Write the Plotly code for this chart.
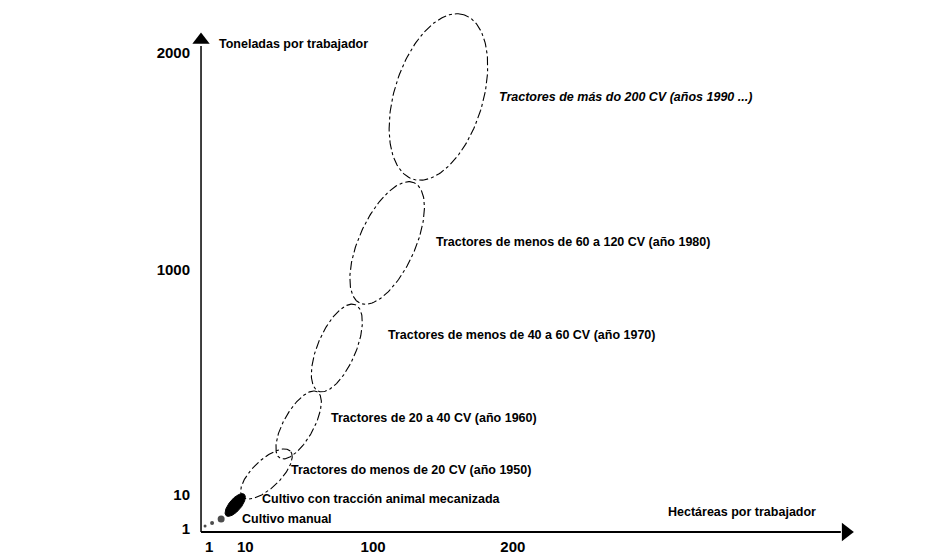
import numpy as np
import plotly.graph_objects as go

# ---- schematic data (diagram units, origin at the axes corner) ----
x_tick_vals = [8, 44, 171, 310]
x_tick_text = ["1", "10", "100", "200"]
y_tick_vals = [3, 37, 262, 479]
y_tick_text = ["1", "10", "1000", "2000"]

# tractor-era regions (dashed ellipses): centre x, centre y, semi-major, semi-minor, tilt (deg)
eras = ["1950", "1960", "1970", "1980", "1990"]
era_cx = [65, 97, 135, 185, 236]
era_cy = [58, 107, 184, 289, 435]
era_a = [33, 38, 47, 66, 86]
era_b = [14, 15, 19, 28, 44]
era_ang = [44, 61, 67, 66, 73]

# animal traction region (filled ellipse)
animal_cx, animal_cy, animal_a, animal_b, animal_ang = 34, 27, 14, 6, 50

# manual cultivation dots
manual_x = [4, 11, 20]
manual_y = [6, 9, 13]
manual_size = [3, 4, 7]

labels = [
    "Tractores de más do 200 CV (años 1990 ...)",
    "Tractores de menos de 60 a 120 CV (año 1980)",
    "Tractores de menos de 40 a 60 CV (año 1970)",
    "Tractores de 20 a 40 CV (año 1960)",
    "Tractores do menos de 20 CV (año 1950)",
    "Cultivo con tracción animal mecanizada",
    "Cultivo manual",
]
label_x = [294, 232, 184, 127, 87, 59, 39]
label_y = [435, 290, 197, 114, 62, 33, 13]
label_italic = [True, False, False, False, False, False, False]

FONT = "Liberation Sans Narrow, Arial Narrow, Liberation Sans, Arial, sans-serif"
LABEL_SIZE = 12.5


def ellipse(cx, cy, a, b, ang, n=200):
    t = np.linspace(0, 2 * np.pi, n)
    th = np.deg2rad(ang)
    x = cx + a * np.cos(t) * np.cos(th) - b * np.sin(t) * np.sin(th)
    y = cy + a * np.cos(t) * np.sin(th) + b * np.sin(t) * np.cos(th)
    return x, y


fig = go.Figure()

# axes drawn as lines with arrow heads
fig.add_shape(type="line", x0=0, y0=0, x1=636, y1=0, line=dict(color="black", width=2))
fig.add_shape(type="line", x0=0, y0=0, x1=0, y1=486, line=dict(color="black", width=1.5))

for i in range(len(eras)):
    ex, ey = ellipse(era_cx[i], era_cy[i], era_a[i], era_b[i], era_ang[i])
    fig.add_trace(go.Scatter(x=ex, y=ey, mode="lines",
                             line=dict(color="black", width=1.1, dash="dashdot"),
                             hoverinfo="skip", showlegend=False))

ax_, ay_ = ellipse(animal_cx, animal_cy, animal_a, animal_b, animal_ang)
fig.add_trace(go.Scatter(x=ax_, y=ay_, mode="lines", fill="toself",
                         fillcolor="black", line=dict(color="black", width=1),
                         hoverinfo="skip", showlegend=False))

fig.add_trace(go.Scatter(x=manual_x, y=manual_y, mode="markers",
                         marker=dict(color="black", size=manual_size, line=dict(width=0)),
                         hoverinfo="skip", showlegend=False))

# axis arrow heads
fig.add_trace(go.Scatter(x=[641], y=[0], mode="markers",
                         marker=dict(symbol="triangle-right", size=16, color="black"),
                         cliponaxis=False, hoverinfo="skip", showlegend=False))
fig.add_trace(go.Scatter(x=[0], y=[492], mode="markers",
                         marker=dict(symbol="triangle-up", size=15, color="black"),
                         cliponaxis=False, hoverinfo="skip", showlegend=False))

for txt, lx, ly, it in zip(labels, label_x, label_y, label_italic):
    fig.add_annotation(x=lx, y=ly, text=txt, showarrow=False, xanchor="left",
                       yanchor="middle",
                       font=dict(family=FONT, size=LABEL_SIZE, color="black", weight="bold",
                                 style="italic" if it else "normal"))

fig.add_annotation(x=16, y=488, text="Toneladas por trabajador", showarrow=False,
                   xanchor="left", yanchor="middle",
                   font=dict(family=FONT, size=LABEL_SIZE, color="black", weight="bold"))
fig.add_annotation(x=462, y=20, text="Hectáreas por trabajador", showarrow=False,
                   xanchor="left", yanchor="middle",
                   font=dict(family=FONT, size=LABEL_SIZE, color="black", weight="bold"))

TICKFONT = dict(family="Liberation Sans, Arial", size=15, color="black", weight="bold")

# page body has an 8px margin: figure is sized/offset to compensate
fig.update_layout(
    width=940, height=547,
    margin=dict(l=189, r=78, t=4, b=19),
    paper_bgcolor="white", plot_bgcolor="white",
    showlegend=False,
    xaxis=dict(range=[-4, 665], showgrid=False, zeroline=False, showline=False,
               tickvals=x_tick_vals, ticktext=x_tick_text, ticks="",
               tickfont=TICKFONT, automargin=False, fixedrange=True),
    yaxis=dict(range=[-4, 520], showgrid=False, zeroline=False, showline=False,
               tickvals=y_tick_vals, ticktext=y_tick_text, ticks="",
               ticklabelstandoff=6,
               tickfont=TICKFONT, automargin=False, fixedrange=True),
)

fig.write_html("out.html")
